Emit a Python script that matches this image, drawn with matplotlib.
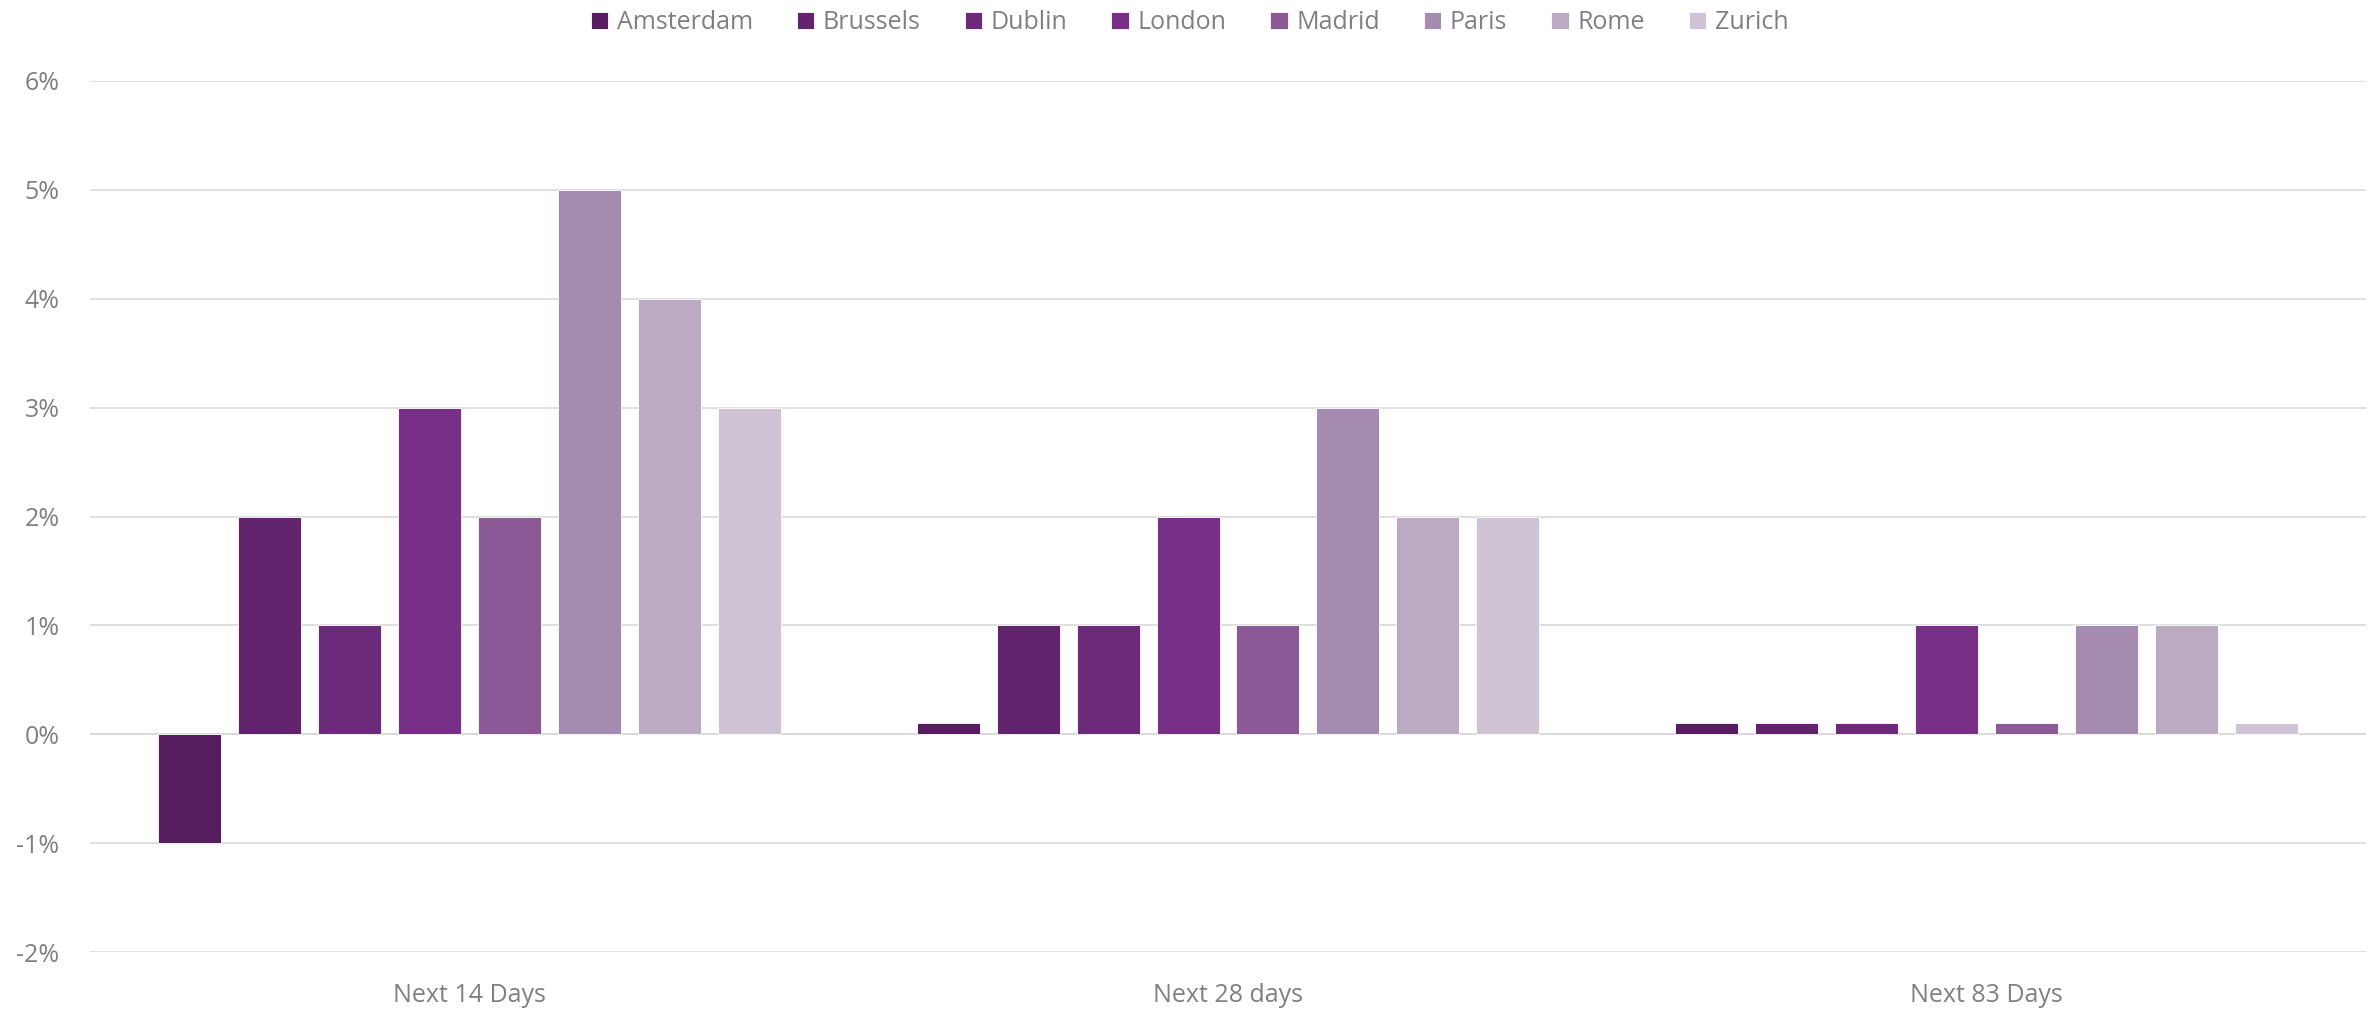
import numpy as np
import matplotlib
matplotlib.use('Agg')
import matplotlib.pyplot as plt
from matplotlib.ticker import FuncFormatter

periods = ['Next 14 Days', 'Next 28 days', 'Next 83 Days']
cities = ['Amsterdam', 'Brussels', 'Dublin', 'London', 'Madrid', 'Paris', 'Rome', 'Zurich']
amsterdam = [-1, 0.1, 0.1]
brussels = [2, 1, 0.1]
dublin = [1, 1, 0.1]
london = [3, 2, 1]
madrid = [2, 1, 0.1]
paris = [5, 3, 1]
rome = [4, 2, 1]
zurich = [3, 2, 0.1]
series = [amsterdam, brussels, dublin, london, madrid, paris, rome, zurich]
colors = ['#561E5E', '#61246D', '#6C2A7A', '#782F87', '#8B5A96', '#A68BB0', '#BCA9C2', '#D0C3D5']

plt.rcParams['font.family'] = ['Open Sans', 'DejaVu Sans']
grey = '#808080'

fig = plt.figure(figsize=(23.79, 10.11), dpi=100)
ax = fig.add_axes([90 / 2379, 1 - 952 / 1011, 2276 / 2379, 871 / 1011])

x = np.arange(len(periods))
step = 0.1054
width = 0.083
for i, (name, vals, c) in enumerate(zip(cities, series, colors)):
    ax.bar(x + (i - 3.5) * step, vals, width, color=c, label=name,
           edgecolor='white', linewidth=0.6, zorder=3)

ax.set_xlim(-0.5, 2.5)
ax.set_ylim(-2, 6)
ax.set_yticks(range(-2, 7))
ax.yaxis.set_major_formatter(FuncFormatter(lambda v, p: f'{v:.0f}%'))
ax.grid(axis='y', color='#D9D9D9', linewidth=1.2, zorder=0)
ax.axhline(0, color='#D9D9D9', linewidth=1.5, zorder=2)
for s in ax.spines.values():
    s.set_visible(False)
ax.set_xticks(x)
ax.set_xticklabels(periods)
ax.tick_params(axis='both', length=0, colors=grey, labelsize=18)
ax.tick_params(axis='x', pad=22)
ax.tick_params(axis='y', pad=22)

leg = fig.legend(loc='upper center', bbox_to_anchor=(0.5, 1.012), ncol=8, frameon=False,
                 fontsize=18, handlelength=0.7, handleheight=0.7, handletextpad=0.35,
                 columnspacing=1.75)
for t in leg.get_texts():
    t.set_color(grey)

fig.savefig('out.png', dpi=100)
